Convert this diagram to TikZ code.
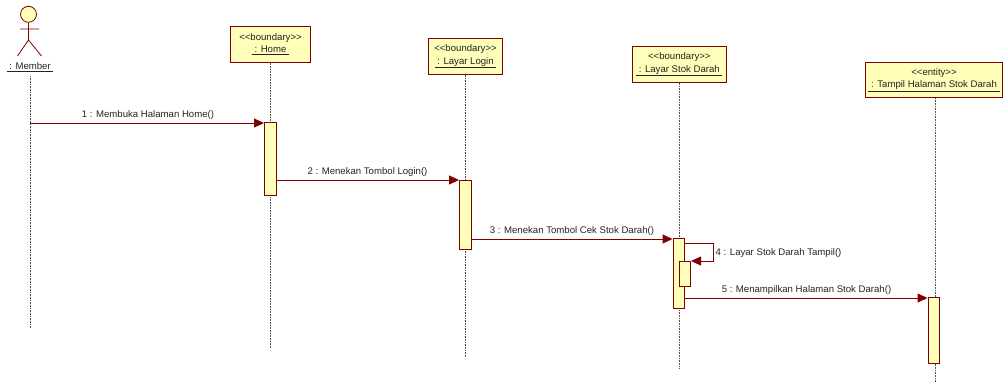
\documentclass[tikz,border=0pt]{standalone}
\usepackage{fontspec}
\setmainfont{Liberation Sans}
\usetikzlibrary{arrows.meta}
\definecolor{umlred}{RGB}{128,0,0}
\definecolor{umlfill}{RGB}{255,255,185}
\definecolor{txt}{RGB}{35,35,35}
\newcommand{\ltlt}{<{}<}
\newcommand{\gtgt}{>{}>}
\tikzset{
 obj/.style={draw=umlred,line width=1pt,fill=umlfill,text=txt,inner sep=0pt,minimum height=35.5pt,align=center,font=\fontsize{9.6}{12.5}\selectfont},
 act/.style={draw=umlred,line width=1pt,fill=umlfill,inner sep=0pt,minimum width=11.5pt},
 life/.style={draw=black!70,line width=.6pt,densely dotted},
 msg/.style={draw=umlred,line width=.9pt,-{Triangle[length=10pt,width=9pt]}},
 lbl/.style={text=txt,inner sep=0pt,font=\fontsize{9.6}{11}\selectfont},
 actorline/.style={draw=umlred,line width=.8pt},
}
\begin{document}
\begin{tikzpicture}[x=1pt,y=-1pt]
\useasboundingbox (0,0) rectangle (1005,383);
% objects
\node[obj,minimum width=79.5pt] (home) at (270.5,44.3) {\ltlt boundary\gtgt\\\underline{\ : Home\ }};
\node[obj,minimum width=74.5pt] (login) at (465.5,56.5) {\ltlt boundary\gtgt\\\underline{\ : Layar Login\ }};
\node[obj,minimum width=93.5pt] (stok) at (679.3,64.5) {\ltlt boundary\gtgt\\\underline{\ : Layar Stok Darah\ }};
\node[obj,minimum width=136.5pt] (tampil) at (934,79.8) {\ltlt entity\gtgt\\\underline{\ : Tampil Halaman Stok Darah\ }};
% actor
\node[draw=umlred,line width=.8pt,fill=umlfill,circle,minimum size=16pt,inner sep=0pt] (head) at (28.5,14.3) {};
\coordinate (hip) at (28.5,40);
\coordinate (armL) at (20,29);
\coordinate (armR) at (39,29);
\coordinate (legL) at (17.5,56);
\coordinate (legR) at (41.5,56);
\draw[actorline] (head.south) -- (hip) (armL) -- (armR) (legL) -- (hip) -- (legR);
\node[lbl] (member) at (30,67.5) {\underline{\ : Member\ }};
% lifeline ends
\coordinate (mTop) at (30,76);
\coordinate (mEnd) at (30,328);
\coordinate (hEnd) at (270.5,348);
\coordinate (lEnd) at (465.5,357);
\coordinate (sEnd) at (679.3,368);
\coordinate (tEnd) at (935,383);
\draw[life] (mTop) -- (mEnd);
\draw[life] (home.south) -- (hEnd);
\draw[life] (login.south) -- (lEnd);
\draw[life] (stok.south) -- (sEnd);
\draw[life] (tampil.south -| tEnd) -- (tEnd);
% activations
\node[act,minimum height=73pt] (a1) at (270.3,159) {};
\node[act,minimum height=69pt] (a2) at (465.3,214.5) {};
\node[act,minimum height=69.5pt] (a3) at (678.8,273.3) {};
\node[act,minimum height=25pt,minimum width=11pt] (a4) at (685,273.5) {};
\node[act,minimum height=65.5pt] (a5) at (933.8,330.3) {};
% anchors of messages
\coordinate (m1s) at (30,123);
\coordinate (m3b) at (713.5,243);
\coordinate (m3c) at (713.5,261);
% messages
\draw[msg] (m1s) -- (m1s -| a1.west);
\draw[msg] (a1.east |- 0,180) -- (a2.west |- 0,180);
\draw[msg] (a2.east |- 0,239) -- (a3.west |- 0,239);
\draw[msg] (a3.east |- m3b) -- (m3b) -- (m3c) -- (a4.east |- m3c);
\draw[msg] (a3.east |- 0,298) -- (a5.west |- 0,298);
% labels
\node[lbl] (t1) at (148,115) {1 : Membuka Halaman Home()};
\node[lbl] (t2) at (367.5,172) {2 : Menekan Tombol Login()};
\node[lbl] (t3) at (572,231) {3 : Menekan Tombol Cek Stok Darah()};
\node[lbl,anchor=west] (t4) at (715.5,253) {4 : Layar Stok Darah Tampil()};
\node[lbl] (t5) at (806.5,290) {5 : Menampilkan Halaman Stok Darah()};
\end{tikzpicture}
\end{document}
